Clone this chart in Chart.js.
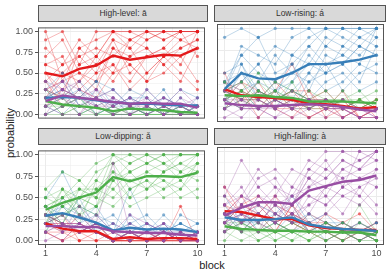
<!DOCTYPE html>
<html>
<head>
<meta charset="utf-8">
<script src="https://cdn.jsdelivr.net/npm/chart.js@4.4.1/dist/chart.umd.min.js"></script>
<style>
  body { margin: 0; background: #fff; width: 390px; height: 276px; position: relative; overflow: hidden;
         font-family: "Liberation Sans", Arial, sans-serif; }
  canvas { position: absolute; }
  .strip { position: absolute; box-sizing: border-box; background: #d9d9d9; border: 1px solid #555;
           height: 17px; font-size: 8.5px; color: #333; text-align: center; line-height: 15px; }
  .ttl { position: absolute; font-size: 11px; color: #222; text-align: center; height: 14px; line-height: 14px; width: 60px; }
</style>
</head>
<body>
<div class="strip" style="left:38px;top:5px;width:170px">High-level: ā</div>
<div class="strip" style="left:214px;top:5px;width:172px">Low-rising: á</div>
<div class="strip" style="left:38px;top:128px;width:170px">Low-dipping: ǎ</div>
<div class="strip" style="left:214px;top:128px;width:172px">High-falling: à</div>
<div class="ttl" style="left:-20px;top:126px;transform:rotate(-90deg)">probability</div>
<div class="ttl" style="left:182px;top:258px">block</div>

<canvas id="pHL" width="209" height="106" style="left:0;top:20px"></canvas>
<canvas id="pLR" width="175" height="106" style="left:213px;top:20px"></canvas>
<canvas id="pLD" width="209" height="122" style="left:0;top:143px"></canvas>
<canvas id="pHF" width="175" height="122" style="left:213px;top:143px"></canvas>

<script>
/* ─── Data ───────────────────────────────────── */
const blocks = [1, 2, 3, 4, 5, 6, 7, 8, 9, 10];
const xTicks = [1, 4, 7, 10];
const xGrid = [1, 2.5, 4, 5.5, 7, 8.5, 10];
const yTicks = [0, 0.25, 0.5, 0.75, 1];
const yGrid = [0, 0.125, 0.25, 0.375, 0.5, 0.625, 0.75, 0.875, 1];

// mean lines (probability)
const hlMeanRed    = [0.50, 0.46, 0.55, 0.59, 0.71, 0.66, 0.69, 0.72, 0.71, 0.80];
const hlMeanBlue   = [0.20, 0.21, 0.20, 0.17, 0.15, 0.13, 0.13, 0.12, 0.11, 0.11];
const hlMeanGreen  = [0.16, 0.12, 0.10, 0.08, 0.04, 0.07, 0.06, 0.05, 0.03, 0.02];
const hlMeanPurple = [0.16, 0.23, 0.20, 0.18, 0.15, 0.13, 0.14, 0.13, 0.13, 0.08];

const lrMeanRed    = [0.32, 0.25, 0.23, 0.22, 0.20, 0.16, 0.15, 0.13, 0.10, 0.12];
const lrMeanBlue   = [0.32, 0.50, 0.44, 0.43, 0.50, 0.60, 0.60, 0.62, 0.65, 0.70];
const lrMeanGreen  = [0.25, 0.24, 0.25, 0.23, 0.22, 0.18, 0.18, 0.18, 0.17, 0.16];
const lrMeanPurple = [0.16, 0.14, 0.13, 0.13, 0.14, 0.15, 0.14, 0.12, 0.09, 0.07];

const ldMeanRed    = [0.20, 0.14, 0.11, 0.11, 0.02, 0.04, 0.02, 0.03, 0.03, 0.02];
const ldMeanBlue   = [0.29, 0.32, 0.27, 0.21, 0.12, 0.15, 0.13, 0.14, 0.13, 0.10];
const ldMeanGreen  = [0.36, 0.44, 0.50, 0.56, 0.74, 0.69, 0.75, 0.75, 0.74, 0.79];
const ldMeanPurple = [0.17, 0.17, 0.16, 0.16, 0.11, 0.10, 0.09, 0.09, 0.07, 0.06];

const hfMeanRed    = [0.33, 0.32, 0.28, 0.24, 0.24, 0.17, 0.14, 0.13, 0.12, 0.12];
const hfMeanBlue   = [0.26, 0.23, 0.23, 0.24, 0.26, 0.18, 0.15, 0.13, 0.12, 0.11];
const hfMeanGreen  = [0.16, 0.13, 0.12, 0.11, 0.11, 0.10, 0.10, 0.09, 0.09, 0.06];
const hfMeanPurple = [0.28, 0.37, 0.43, 0.43, 0.41, 0.56, 0.61, 0.66, 0.68, 0.73];

// individual participants, in tenths
const hlThinRed = [
  [5,3,6,7,10,9,10,10,10,10], [7,9,5,4,8,7,9,10,9,10], [3,2,4,6,9,8,5,7,8,9],
  [10,4,8,9,10,10,10,10,10,10], [6,7,3,5,6,4,7,8,6,10], [2,5,7,8,7,9,10,9,10,10],
  [4,1,3,2,5,6,4,5,7,4], [9,10,6,10,10,10,9,10,10,10], [5,2,8,6,4,7,8,6,4,8],
  [1,3,2,4,6,3,5,7,5,3], [8,6,9,7,10,8,10,9,10,10], [3,4,5,3,8,6,4,7,9,8],
  [6,5,4,7,5,9,8,6,8,9], [4,6,7,5,9,5,7,8,10,7]
];
const hlThinBlue = [
  [2,4,1,3,0,2,1,0,1,0], [4,2,3,1,2,0,3,1,0,2], [1,0,2,4,3,1,0,2,1,1], [3,5,1,2,1,3,2,0,2,0],
  [0,1,3,0,1,2,1,3,0,1], [2,3,0,1,0,0,1,2,1,0], [1,2,4,2,3,1,0,1,3,2], [3,1,2,0,1,2,2,0,1,1],
  [2,3,2,4,1,1,0,1,0,1]
];
const hlThinGreen = [
  [3,1,2,0,0,1,0,0,1,0], [2,0,1,1,0,0,1,0,0,0], [1,2,0,0,1,0,0,1,0,0], [0,1,1,2,0,1,0,0,0,1],
  [3,2,0,1,0,0,1,0,0,0], [2,0,1,0,1,0,0,0,0,0], [1,1,2,0,0,1,0,1,0,0], [0,0,0,1,0,0,0,0,1,0]
];
const hlThinPurple = [
  [4,3,2,1,2,0,1,2,1,0], [2,4,3,2,0,1,2,0,2,1], [0,1,2,3,1,2,0,1,0,0], [3,2,1,0,2,1,3,1,1,2],
  [1,0,0,2,1,2,1,0,0,1], [2,3,4,1,0,0,1,2,1,0], [1,2,0,3,2,1,0,1,3,1], [0,3,2,1,1,0,2,1,0,0],
  [3,4,1,2,3,1,1,0,1,0]
];

const lrThinRed = [
  [4,3,2,3,1,2,1,0,1,2], [3,2,4,1,2,0,1,2,0,1], [2,4,1,3,6,2,3,1,2,0], [5,1,3,2,1,3,0,1,0,1],
  [3,2,2,4,2,1,2,0,1,2], [1,3,0,2,3,1,1,2,0,0], [4,2,3,1,0,2,2,1,1,1], [2,3,2,1,1,0,1,3,0,1],
  [3,4,3,2,3,3,1,1,2,1]
];
const lrThinBlue = [
  [9,10,9,10,10,10,10,10,10,10], [3,7,9,5,6,8,10,9,8,10], [2,5,3,2,7,6,9,8,10,9],
  [4,3,4,7,5,8,6,7,9,8], [1,6,2,3,4,7,5,6,4,8], [3,8,7,6,9,10,8,10,10,10],
  [2,1,3,2,1,4,6,3,5,6], [4,5,2,4,6,3,7,6,8,7], [1,2,4,3,2,5,3,4,6,5],
  [3,4,6,8,7,9,10,10,9,10], [2,3,1,2,3,2,4,5,3,4], [5,6,3,1,4,6,5,8,7,9],
  [4,7,5,4,3,5,8,7,6,10], [2,4,6,3,5,4,5,6,8,7]
];
const lrThinGreen = [
  [3,2,4,2,3,2,1,2,3,1], [2,3,1,3,2,1,2,1,2,3], [4,1,3,2,1,3,2,2,1,2], [1,2,2,4,3,2,3,1,2,1],
  [3,4,2,1,2,1,1,3,1,2], [2,1,3,2,3,2,2,1,2,1], [1,3,2,3,1,1,2,2,1,2], [3,2,1,2,2,2,1,2,2,1],
  [2,3,5,2,4,1,2,1,2,1]
];
const lrThinPurple = [
  [2,1,1,0,2,1,2,1,0,1], [1,2,0,2,1,2,1,2,1,0], [3,1,2,1,0,1,2,0,1,1], [1,0,2,1,2,2,1,1,0,0],
  [2,2,1,2,1,1,0,2,1,1], [0,1,1,0,1,2,1,1,0,0], [1,2,1,2,1,0,1,1,1,1], [2,1,1,1,2,2,1,0,1,0],
  [3,2,2,1,3,2,2,1,0,1]
];

const ldThinRed = [
  [2,1,3,1,0,0,1,0,0,0], [3,2,1,2,0,1,0,0,1,0], [1,0,2,1,0,0,0,1,0,0], [2,3,0,0,1,0,0,0,0,1],
  [1,1,1,2,0,1,0,0,0,0], [4,1,0,1,0,0,1,0,4,0], [2,2,1,0,0,0,0,0,0,0], [1,0,1,2,0,1,0,1,0,0],
  [3,2,2,1,0,0,0,1,0,0]
];
const ldThinBlue = [
  [5,8,4,3,1,2,3,1,2,1], [3,2,5,1,0,3,1,2,0,1], [2,4,2,3,2,1,0,2,1,0], [4,3,1,2,0,1,2,0,3,2],
  [1,5,3,1,2,0,1,1,0,1], [3,1,2,4,1,2,1,3,1,0], [2,3,4,1,0,1,2,1,2,1], [4,2,1,2,3,1,0,1,1,2],
  [3,4,3,2,1,6,2,1,2,1]
];
const ldThinGreen = [
  [6,4,5,8,9,10,9,10,10,10], [3,6,4,3,7,5,8,7,6,9], [4,2,6,5,10,9,10,9,8,10],
  [2,5,3,6,5,7,6,8,9,8], [6,8,7,9,10,10,10,10,10,10], [3,3,5,4,9,6,7,6,8,7],
  [1,4,2,7,6,8,9,10,8,9], [4,5,6,5,8,5,6,7,5,6], [2,3,4,6,7,9,10,9,10,10],
  [5,6,3,4,6,4,5,6,7,5], [3,2,5,7,10,8,9,8,10,10], [4,5,7,5,4,6,7,5,6,8],
  [5,4,6,6,8,7,8,9,7,9], [2,6,5,4,7,8,6,8,9,10]
];
const ldThinPurple = [
  [2,1,3,2,9,1,1,2,0,1], [1,2,1,3,1,0,2,1,1,0], [3,2,2,1,0,1,0,1,0,1], [1,0,2,1,2,1,1,0,1,0],
  [2,3,1,2,1,0,1,1,0,0], [0,1,2,1,0,1,0,0,1,1], [2,2,1,2,1,1,1,2,0,0], [1,2,2,1,0,2,1,0,1,0],
  [3,1,4,2,1,3,2,1,0,1]
];

const hfThinRed = [
  [6,3,2,4,3,2,1,2,1,0], [4,2,3,2,1,3,2,1,0,1], [2,4,5,3,2,1,0,1,2,1], [3,5,2,1,4,2,1,0,1,2],
  [5,3,4,2,3,1,2,1,0,1], [1,2,3,5,2,1,3,2,1,0], [4,3,1,3,2,2,1,2,3,1], [3,2,3,1,4,1,1,0,1,2],
  [2,4,3,2,3,2,2,1,1,1]
];
const hfThinBlue = [
  [3,2,4,3,5,2,1,2,1,0], [2,4,1,2,3,1,2,1,2,1], [4,1,3,2,1,3,1,0,1,2], [1,3,2,4,2,2,0,1,0,1],
  [3,2,2,1,3,1,2,2,1,0], [2,3,3,2,4,1,1,1,2,1], [5,2,1,3,2,2,1,1,0,1], [1,2,3,2,1,2,3,1,1,2],
  [3,1,2,3,2,3,2,1,1,1]
];
const hfThinGreen = [
  [2,1,3,1,0,1,2,1,0,1], [3,2,0,1,2,1,0,1,1,0], [1,0,1,2,1,0,1,0,2,1], [2,1,2,0,1,1,1,2,1,0],
  [0,2,1,1,0,2,1,0,1,1], [2,1,0,1,2,1,0,1,0,0], [1,2,1,0,1,0,2,1,1,0], [3,1,1,2,1,1,1,1,1,1],
  [2,2,1,1,1,0,1,1,4,1]
];
const hfThinPurple = [
  [5,9,6,7,4,8,10,10,10,10], [3,2,5,4,3,6,7,9,8,10], [4,6,3,5,8,7,9,6,10,9],
  [2,3,4,2,5,3,6,7,5,8], [6,4,7,8,6,9,8,10,9,10], [1,3,2,4,2,5,4,6,7,6],
  [3,5,8,6,4,7,6,8,9,10], [2,1,3,2,3,4,5,3,6,7], [4,5,4,6,5,8,7,9,8,10],
  [3,2,5,3,2,4,6,5,4,6], [1,4,3,2,6,5,4,6,5,3], [2,3,1,5,3,2,3,5,6,4],
  [3,4,6,4,5,6,8,7,8,9], [2,5,4,3,4,7,5,8,7,8]
];

/* ─── Styling ────────────────────────────────── */
const colors = { red: [228, 26, 28], blue: [55, 126, 184], green: [77, 175, 74], purple: [152, 78, 163] };
const fontFamily = "'Liberation Sans', Arial, sans-serif";

function rgba(c, a) { return 'rgba(' + c[0] + ',' + c[1] + ',' + c[2] + ',' + a + ')'; }

function thinSets(rows, col) {
    return rows.map(r => ({
        data: r.map((v, i) => ({ x: blocks[i], y: v / 10 })),
        borderColor: rgba(col, 0.45),
        borderWidth: 0.7,
        pointRadius: 1.6,
        pointBorderWidth: 0,
        pointBackgroundColor: rgba(col, 0.6),
        order: 10
    }));
}

function meanSet(vals, col, order) {
    return {
        data: vals.map((v, i) => ({ x: blocks[i], y: v })),
        borderColor: rgba(col, 1),
        borderWidth: 2.4,
        pointRadius: 0,
        order: order
    };
}

const panelBorder = {
    id: 'panelBorder',
    afterDraw(chart) {
        const a = chart.chartArea, ctx = chart.ctx;
        ctx.save();
        ctx.strokeStyle = '#555555';
        ctx.lineWidth = 1;
        ctx.strokeRect(a.left + 0.5, a.top + 0.5, a.right - a.left - 1, a.bottom - a.top - 1);
        ctx.restore();
    }
};

/* ─── Create Panel ───────────────────────────── */
function createPanel(canvasId, showX, showY, padding, datasets) {
    const ctx = document.getElementById(canvasId);
    return new Chart(ctx.getContext('2d'), {
        type: 'line',
        data: { datasets },
        plugins: [panelBorder],
        options: {
            responsive: false,
            animation: false,
            events: [],
            layout: { padding: padding },
            plugins: { legend: { display: false }, tooltip: { enabled: false } },
            scales: {
                x: {
                    type: 'linear', min: 0.55, max: 10.45,
                    afterBuildTicks: s => { s.ticks = xGrid.map(v => ({ value: v })); },
                    afterFit: s => { s.height = showX ? 20 : 0; },
                    ticks: {
                        display: showX, autoSkip: false, maxRotation: 0, padding: 0,
                        font: { family: fontFamily, size: 9 }, color: '#4d4d4d',
                        callback: v => xTicks.includes(v) ? String(v) : ''
                    },
                    grid: {
                        color: '#ebebeb',
                        lineWidth: c => (c.tick && xTicks.includes(c.tick.value)) ? 1 : 0.5,
                        drawTicks: showX, tickLength: 3, tickWidth: 1,
                        tickColor: c => (c.tick && xTicks.includes(c.tick.value)) ? '#555555' : 'rgba(0,0,0,0)'
                    },
                    border: { display: false }
                },
                y: {
                    type: 'linear', min: -0.05, max: 1.05,
                    afterBuildTicks: s => { s.ticks = yGrid.map(v => ({ value: v })); },
                    afterFit: s => { s.width = showY ? 38 : 0; },
                    ticks: {
                        display: showY, autoSkip: false, padding: 2,
                        font: { family: fontFamily, size: 9 }, color: '#4d4d4d',
                        callback: v => yTicks.includes(v) ? v.toFixed(2) : ''
                    },
                    grid: {
                        color: '#ebebeb',
                        lineWidth: c => (c.tick && yTicks.includes(c.tick.value)) ? 1 : 0.5,
                        drawTicks: showY, tickLength: 3, tickWidth: 1,
                        tickColor: c => (c.tick && yTicks.includes(c.tick.value)) ? '#555555' : 'rgba(0,0,0,0)'
                    },
                    border: { display: false }
                }
            }
        }
    });
}

function panelSets(tr, tb, tg, tp, mr, mb, mg, mp) {
    return [
        meanSet(mp, colors.purple, 1),
        meanSet(mg, colors.green, 2),
        meanSet(mb, colors.blue, 3),
        meanSet(mr, colors.red, 4),
        ...thinSets(tp, colors.purple),
        ...thinSets(tg, colors.green),
        ...thinSets(tb, colors.blue),
        ...thinSets(tr, colors.red)
    ];
}

createPanel('pHL', false, true, { top: 1, bottom: 1, right: 1, left: 0 },
    panelSets(hlThinRed, hlThinBlue, hlThinGreen, hlThinPurple, hlMeanRed, hlMeanBlue, hlMeanGreen, hlMeanPurple));
createPanel('pLR', false, false, { top: 1, bottom: 1, right: 2, left: 1 },
    panelSets(lrThinRed, lrThinBlue, lrThinGreen, lrThinPurple, lrMeanRed, lrMeanBlue, lrMeanGreen, lrMeanPurple));
createPanel('pLD', true, true, { top: 1, bottom: 0, right: 1, left: 0 },
    panelSets(ldThinRed, ldThinBlue, ldThinGreen, ldThinPurple, ldMeanRed, ldMeanBlue, ldMeanGreen, ldMeanPurple));
createPanel('pHF', true, false, { top: 1, bottom: 0, right: 2, left: 1 },
    panelSets(hfThinRed, hfThinBlue, hfThinGreen, hfThinPurple, hfMeanRed, hfMeanBlue, hfMeanGreen, hfMeanPurple));
</script>
</body>
</html>
